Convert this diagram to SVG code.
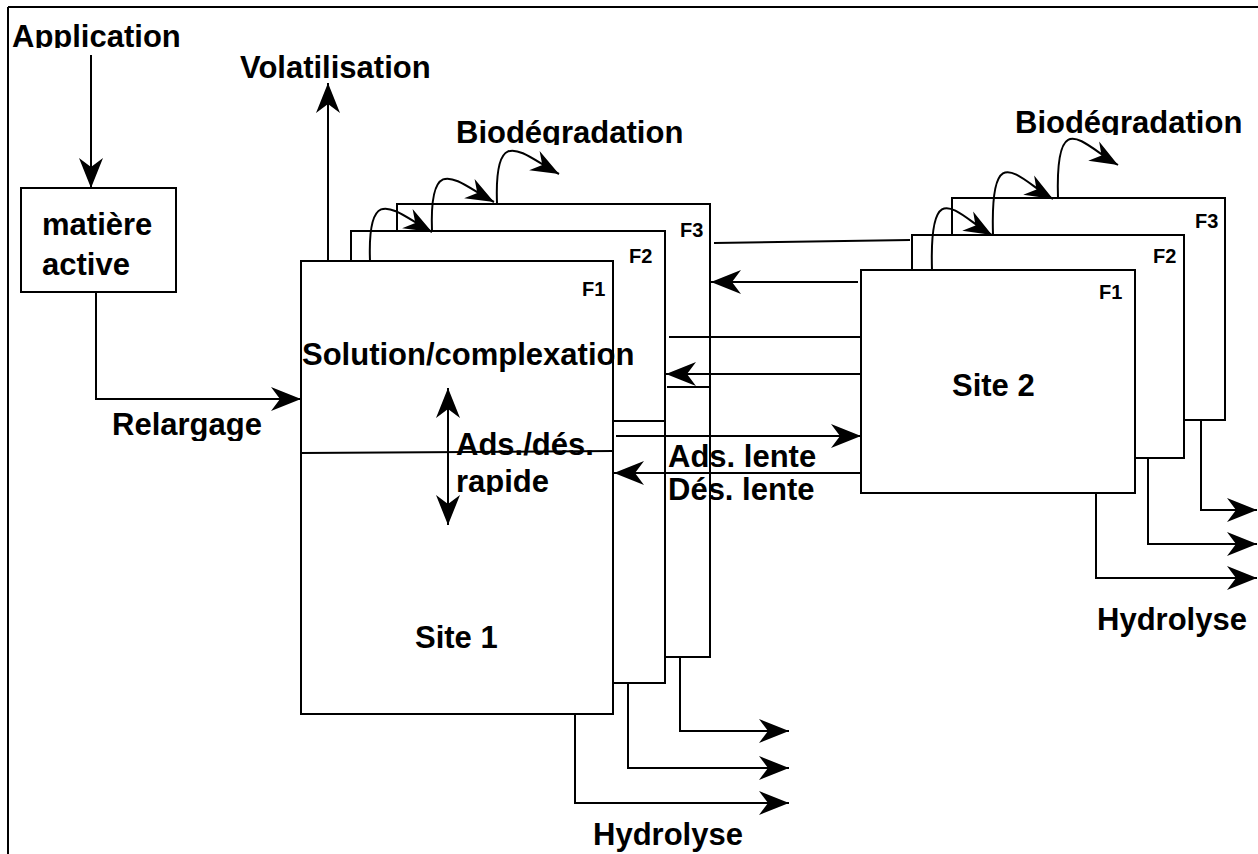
<svg xmlns="http://www.w3.org/2000/svg" width="1258" height="854" viewBox="0 0 1258 854">
<style>
.box{fill:#fff;stroke:#000;stroke-width:2}
.ln{fill:none;stroke:#000;stroke-width:2}
.t{font-family:"Liberation Sans",Arial,sans-serif;font-weight:bold;font-size:31px;fill:#000}
.f{font-family:"Liberation Sans",Arial,sans-serif;font-weight:bold;font-size:20px;fill:#000}
</style>
<defs>
<marker id="ah" viewBox="-31 -13 32 26" refX="0" refY="0" markerWidth="32" markerHeight="26" markerUnits="userSpaceOnUse" orient="auto-start-reverse">
<path d="M0,0 L-30,-12 L-21,0 L-30,12 Z" fill="#000"/>
</marker>
<marker id="ahs" viewBox="-29 -12 30 24" refX="0" refY="0" markerWidth="30" markerHeight="24" markerUnits="userSpaceOnUse" orient="auto">
<path d="M0,0 L-28,-11 L-19,0 L-28,11 Z" fill="#000"/>
</marker>
<clipPath id="cApp"><rect x="0" y="10" width="200" height="38"/></clipPath>
<clipPath id="cRel"><rect x="100" y="400" width="200" height="41"/></clipPath>
<clipPath id="cBio1"><rect x="440" y="108" width="260" height="37"/></clipPath>
<clipPath id="cBio2"><rect x="1000" y="98" width="258" height="37"/></clipPath>
<clipPath id="cRap"><rect x="440" y="465" width="130" height="30"/></clipPath>
</defs>

<g id="frame">
<line class="ln" x1="8" y1="7" x2="1258" y2="7"/>
<line class="ln" x1="8" y1="7" x2="8" y2="854"/>
</g>

<g id="application"><text class="t" x="12" y="47" clip-path="url(#cApp)">Application</text></g>

<g id="matiere-active">
<rect class="box" x="21" y="188" width="155" height="104"/>
<text class="t" x="42" y="235">matière</text>
<text class="t" x="42" y="275">active</text>
</g>

<g id="site1-F3"><rect class="box" x="397" y="204" width="313" height="453"/><text class="f" x="680" y="237">F3</text></g>
<g id="site1-F2"><rect class="box" x="351" y="231" width="314" height="452"/><text class="f" x="629" y="263">F2</text></g>
<g id="site1-F1">
<rect class="box" x="301" y="261" width="312" height="453"/>
<text class="f" x="582" y="296">F1</text>
<line class="ln" x1="301" y1="453" x2="613" y2="451"/>
<text class="t" x="302" y="365">Solution/complexation</text>
<text class="t" x="415" y="648">Site 1</text>
</g>

<g id="site2-F3"><rect class="box" x="952" y="198" width="273" height="222"/><text class="f" x="1195" y="228">F3</text></g>
<g id="site2-F2"><rect class="box" x="912" y="235" width="272" height="223"/><text class="f" x="1153" y="263">F2</text></g>
<g id="site2-F1">
<rect class="box" x="861" y="270" width="274" height="223"/>
<text class="f" x="1099" y="299">F1</text>
<text class="t" x="952" y="396">Site 2</text>
</g>

<g id="connectors">
<line class="ln" x1="91" y1="55" x2="91" y2="188" marker-end="url(#ah)"/>
<polyline class="ln" points="96,292 96,399 301,399" marker-end="url(#ah)"/>
<line class="ln" x1="328" y1="261" x2="328" y2="83" marker-end="url(#ah)"/>
<line class="ln" x1="448" y1="388" x2="448" y2="525" marker-start="url(#ah)" marker-end="url(#ah)"/>

<path class="ln" d="M370,261 c-3,-81 25,-49 62,-29" marker-end="url(#ahs)"/>
<path class="ln" d="M432,231 c-3,-81 25,-49 62,-29" marker-end="url(#ahs)"/>
<path class="ln" d="M497,203 c-3,-81 25,-49 62,-29" marker-end="url(#ahs)"/>

<path class="ln" d="M932,270 c-3,-98 25,-55 60,-35" marker-end="url(#ahs)"/>
<path class="ln" d="M993,234 c-3,-98 25,-55 60,-35" marker-end="url(#ahs)"/>
<path class="ln" d="M1058,198 c-3,-94 25,-53 60,-33" marker-end="url(#ahs)"/>

<line class="ln" x1="714" y1="243" x2="910" y2="240"/>
<line class="ln" x1="858" y1="282" x2="711" y2="282" marker-end="url(#ah)"/>
<line class="ln" x1="669" y1="337" x2="860" y2="337"/>
<line class="ln" x1="860" y1="374" x2="666" y2="374" marker-end="url(#ah)"/>
<line class="ln" x1="667" y1="387" x2="710" y2="387"/>
<line class="ln" x1="614" y1="421" x2="665" y2="421"/>
<line class="ln" x1="616" y1="436" x2="861" y2="436" marker-end="url(#ah)"/>
<line class="ln" x1="862" y1="473" x2="614" y2="473" marker-end="url(#ah)"/>

<polyline class="ln" points="680,657 680,731 789,731" marker-end="url(#ah)"/>
<polyline class="ln" points="628,683 628,768 789,768" marker-end="url(#ah)"/>
<polyline class="ln" points="575,714 575,803 789,803" marker-end="url(#ah)"/>

<polyline class="ln" points="1201,420 1201,510 1257,510" marker-end="url(#ah)"/>
<polyline class="ln" points="1148,458 1148,544 1257,544" marker-end="url(#ah)"/>
<polyline class="ln" points="1096,493 1096,578 1257,578" marker-end="url(#ah)"/>
</g>

<g id="labels">
<text class="t" x="240" y="78">Volatilisation</text>
<text class="t" x="456" y="143" clip-path="url(#cBio1)">Biodégradation</text>
<text class="t" x="1015" y="133" clip-path="url(#cBio2)">Biodégradation</text>
<text class="t" x="112" y="435" clip-path="url(#cRel)">Relargage</text>
<text class="t" x="456" y="455">Ads./dés.</text>
<text class="t" x="456" y="492" clip-path="url(#cRap)">rapide</text>
<text class="t" x="668" y="467">Ads. lente</text>
<text class="t" x="668" y="500">Dés. lente</text>
<text class="t" x="593" y="845">Hydrolyse</text>
<text class="t" x="1097" y="630">Hydrolyse</text>
</g>
</svg>
